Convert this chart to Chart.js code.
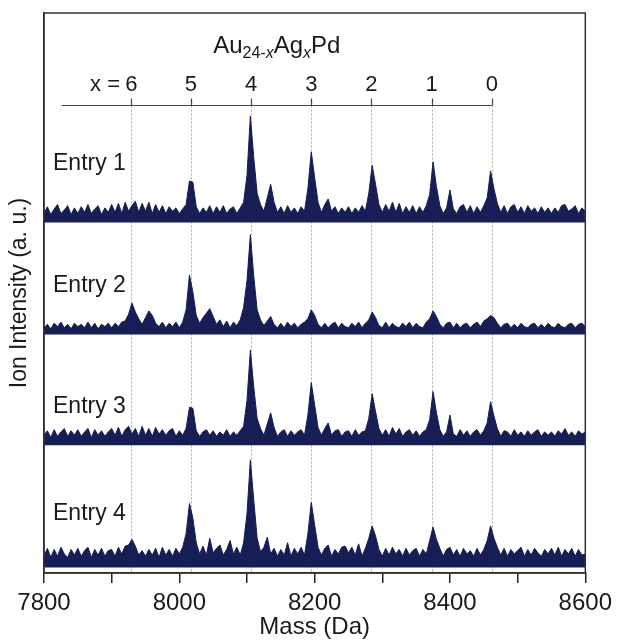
<!DOCTYPE html>
<html>
<head>
<meta charset="utf-8">
<script src="https://cdn.jsdelivr.net/npm/chart.js@4.4.1/dist/chart.umd.min.js"></script>
<style>
  html, body { margin: 0; padding: 0; background: #fff; }
  canvas { display: block; }
</style>
</head>
<body>
<canvas id="grafico" width="618" height="642"></canvas>
<script>
// 1. Datos: espectros cada 5 Da desde 7800 hasta 8600 (161 puntos)
const massStart = 7800;
const massStep = 5;

const entryNames = ['Entry 1', 'Entry 2', 'Entry 3', 'Entry 4'];
// base de cada espectro en el eje y (cada panel = 100 u.a.)
const entryOffsets = [313, 213, 114, 5];

const entry1 = [
  8, 14, 7, 12, 16, 8, 11, 15, 7, 13,
  8, 14, 9, 16, 8, 12, 15, 7, 13, 9,
  16, 9, 17, 8, 18, 10, 15, 19, 9, 17,
  10, 18, 8, 16, 9, 15, 8, 14, 10, 13,
  8, 12, 16, 37, 36, 14, 8, 13, 9, 15,
  8, 14, 9, 15, 8, 12, 14, 8, 13, 18,
  42, 95, 58, 26, 16, 10, 22, 34, 18, 9,
  14, 8, 15, 9, 13, 8, 14, 10, 30, 63,
  40, 18, 9, 16, 21, 10, 14, 8, 13, 9,
  14, 8, 13, 9, 15, 10, 26, 51, 34, 16,
  9, 16, 10, 18, 9, 17, 8, 14, 9, 15,
  8, 14, 9, 15, 25, 54, 32, 15, 8, 13,
  29, 12, 8, 14, 16, 9, 15, 8, 14, 9,
  15, 22, 46, 30, 17, 9, 15, 8, 14, 16,
  9, 14, 8, 15, 10, 13, 8, 14, 9, 13,
  8, 13, 9, 15, 16, 10, 12, 15, 8, 13,
  10
];
const entry2 = [
  6, 9, 5, 10, 7, 11, 6, 9, 5, 10,
  7, 9, 6, 11, 6, 10, 5, 9, 7, 10,
  6, 10, 7, 11, 12, 18, 28, 20, 14, 9,
  15, 21, 17, 10, 7, 11, 6, 10, 7, 11,
  6, 11, 22, 53, 38, 17, 10, 15, 19, 23,
  16, 9, 13, 7, 12, 6, 11, 8, 13, 24,
  48, 89, 52, 22, 13, 8, 12, 16, 9, 6,
  10, 6, 11, 7, 10, 6, 9, 11, 14, 22,
  17, 9, 6, 10, 6, 9, 11, 6, 10, 7,
  6, 10, 7, 11, 6, 10, 13, 20, 15, 8,
  6, 11, 6, 10, 7, 6, 10, 7, 11, 6,
  10, 7, 6, 11, 14, 21, 16, 9, 6, 10,
  11, 6, 10, 6, 9, 10, 6, 9, 11, 7,
  12, 14, 17, 15, 10, 6, 9, 10, 6, 9,
  6, 10, 7, 6, 9, 10, 6, 9, 6, 10,
  7, 6, 10, 7, 6, 9, 10, 6, 9, 10,
  7
];
const entry3 = [
  9, 13, 7, 14, 8, 12, 15, 8, 13, 9,
  14, 8, 12, 15, 7, 14, 9, 13, 8, 12,
  15, 9, 16, 8, 14, 17, 10, 15, 8, 17,
  9, 15, 8, 16, 10, 14, 9, 13, 15, 8,
  13, 9, 15, 34, 33, 13, 8, 12, 14, 9,
  13, 8, 12, 9, 14, 8, 12, 9, 13, 17,
  40, 85, 52, 24, 15, 9, 19, 29, 16, 8,
  12, 14, 8, 13, 9, 12, 14, 9, 27, 56,
  36, 16, 9, 15, 20, 9, 13, 14, 8, 12,
  13, 8, 14, 9, 12, 13, 24, 46, 30, 15,
  9, 14, 8, 16, 10, 15, 8, 12, 14, 9,
  13, 8, 12, 14, 23, 48, 29, 14, 8, 12,
  27, 10, 8, 14, 9, 13, 8, 12, 14, 9,
  13, 20, 39, 26, 15, 8, 13, 12, 8, 14,
  9, 12, 8, 13, 9, 12, 14, 8, 12, 9,
  12, 8, 13, 10, 15, 9, 12, 8, 13, 10,
  12
];
const entry4 = [
  10, 17, 9, 16, 10, 18, 12, 9, 16, 11,
  17, 10, 15, 18, 9, 16, 11, 17, 10, 15,
  16, 10, 18, 12, 19, 20, 25, 19, 11, 15,
  10, 16, 11, 17, 9, 18, 11, 16, 10, 17,
  12, 18, 30, 57, 44, 22, 12, 19, 11, 26,
  13, 17, 20, 11, 16, 24, 12, 18, 11, 22,
  48, 96, 60, 26, 14, 18, 27, 12, 17, 10,
  16, 11, 22, 10, 17, 12, 18, 11, 30, 58,
  38, 18, 11, 17, 20, 10, 16, 12, 18, 19,
  13, 18, 11, 21, 10, 17, 26, 37, 28, 16,
  10, 17, 11, 18, 12, 16, 10, 17, 11, 15,
  17, 10, 16, 12, 24, 36, 25, 17, 10, 16,
  18, 11, 16, 10, 17, 12, 15, 10, 17, 11,
  16, 24, 37, 26, 18, 11, 17, 10, 16, 12,
  15, 18, 10, 16, 11, 17, 13, 10, 16, 12,
  17, 11, 18, 10, 16, 12, 17, 10, 16, 11,
  12
];
const spectra = [entry1, entry2, entry3, entry4];

// picos Au(24-x)Ag(x)Pd, de x = 6 a x = 0
const peakLabels = ['6', '5', '4', '3', '2', '1', '0'];
const peakMasses = [7929, 8017, 8106, 8195, 8284, 8373, 8462];

// ticks del eje x
const massTicks = [7800, 8000, 8200, 8400, 8600];

// 2. Posiciones de textos y eje superior (en unidades de los ejes)
const topAxisStart = 7826;
const topAxisLevel = 418;
const entryLabelLevels = [360, 251, 143, 47];

const navy = '#161e55';
const ink = '#1a1a1a';

const masses = entry1.map((v, i) => massStart + i * massStep);

const datasets = spectra.map((serie, k) => ({
  label: entryNames[k],
  data: serie.map((v, i) => ({ x: masses[i], y: entryOffsets[k] + v })),
  borderColor: navy,
  backgroundColor: navy,
  borderWidth: 1,
  pointRadius: 0,
  tension: 0,
  fill: { value: entryOffsets[k] }
}));

// 3. Plugin para marco, líneas punteadas, eje superior y etiquetas
const decoracion = {
  id: 'decoracion',
  beforeDatasetsDraw(chart) {
    const { ctx, chartArea, scales: { x, y } } = chart;
    const yTop = Math.round(y.getPixelForValue(topAxisLevel)) + 0.5;
    ctx.save();
    ctx.strokeStyle = '#a8a8a8';
    ctx.lineWidth = 1;
    ctx.setLineDash([2, 2]);
    peakMasses.forEach(m => {
      const px = Math.round(x.getPixelForValue(m)) + 0.5;
      ctx.beginPath();
      ctx.moveTo(px, yTop);
      ctx.lineTo(px, chartArea.bottom);
      ctx.stroke();
    });
    ctx.restore();
  },
  afterDatasetsDraw(chart) {
    const { ctx, chartArea, scales: { x, y } } = chart;
    ctx.save();

    // marco
    ctx.strokeStyle = '#333';
    ctx.lineWidth = 1.5;
    ctx.strokeRect(chartArea.left, chartArea.top, chartArea.right - chartArea.left, chartArea.bottom - chartArea.top);

    // eje superior con los valores de x
    const yTop = Math.round(y.getPixelForValue(topAxisLevel)) + 0.5;
    const x0 = x.getPixelForValue(topAxisStart);
    const x1 = x.getPixelForValue(peakMasses[peakMasses.length - 1]);
    ctx.strokeStyle = '#444';
    ctx.lineWidth = 1.2;
    ctx.beginPath();
    ctx.moveTo(x0, yTop);
    ctx.lineTo(x1, yTop);
    peakMasses.forEach(m => {
      const px = Math.round(x.getPixelForValue(m)) + 0.5;
      ctx.moveTo(px, yTop);
      ctx.lineTo(px, yTop - 7);
    });
    ctx.stroke();

    ctx.fillStyle = ink;
    ctx.font = '22px "Liberation Sans", Arial, sans-serif';
    ctx.textBaseline = 'alphabetic';
    ctx.textAlign = 'center';
    peakMasses.forEach((m, i) => {
      ctx.fillText(peakLabels[i], x.getPixelForValue(m), yTop - 15);
    });
    const first = x.getPixelForValue(peakMasses[0]);
    const w6 = ctx.measureText(peakLabels[0]).width;
    ctx.textAlign = 'right';
    ctx.fillText('x = ', first - w6 / 2 + 1, yTop - 15);

    // título Au(24-x)Ag(x)Pd
    const partes = [
      { t: 'Au', f: '24px "Liberation Sans", Arial, sans-serif', dy: 0 },
      { t: '24-', f: '16px "Liberation Sans", Arial, sans-serif', dy: 5 },
      { t: 'x', f: 'italic 16px "Liberation Sans", Arial, sans-serif', dy: 5 },
      { t: 'Ag', f: '24px "Liberation Sans", Arial, sans-serif', dy: 0 },
      { t: 'x', f: 'italic 16px "Liberation Sans", Arial, sans-serif', dy: 5 },
      { t: 'Pd', f: '24px "Liberation Sans", Arial, sans-serif', dy: 0 }
    ];
    let total = 0;
    partes.forEach(p => { ctx.font = p.f; p.w = ctx.measureText(p.t).width; total += p.w; });
    let cx = (x0 + x1) / 2 - total / 2;
    const baseTitulo = yTop - 53;
    ctx.textAlign = 'left';
    partes.forEach(p => {
      ctx.font = p.f;
      ctx.fillText(p.t, cx, baseTitulo + p.dy);
      cx += p.w;
    });

    // nombres de cada entrada
    ctx.font = '23px "Liberation Sans", Arial, sans-serif';
    entryNames.forEach((name, k) => {
      ctx.fillText(name, chartArea.left + 9, y.getPixelForValue(entryLabelLevels[k]));
    });
    ctx.restore();
  }
};

// 4. Gráfico
const ctx = document.getElementById('grafico');
new Chart(ctx.getContext('2d'), {
  type: 'line',
  data: { datasets },
  options: {
    responsive: false,
    animation: false,
    devicePixelRatio: 1,
    layout: { padding: { top: 13, right: 27, left: 0, bottom: 0 } },
    plugins: { legend: { display: false }, tooltip: { enabled: false } },
    scales: {
      x: {
        type: 'linear',
        min: 7800,
        max: 8600,
        ticks: {
          stepSize: 100,
          color: ink,
          font: { family: '"Liberation Sans", Arial, sans-serif', size: 24 },
          padding: 6,
          maxRotation: 0,
          callback: v => massTicks.includes(v) ? String(v) : ''
        },
        grid: { drawOnChartArea: false, drawTicks: true, tickLength: 10, color: '#222', lineWidth: 1.5 },
        border: { display: true, color: '#222', width: 1.5 },
        title: {
          display: true,
          text: 'Mass (Da)',
          color: ink,
          font: { family: '"Liberation Sans", Arial, sans-serif', size: 24 },
          padding: { top: 2, bottom: 0 }
        },
        afterFit: s => { s.height = 69; }
      },
      y: {
        min: 0,
        max: 500,
        ticks: { display: false },
        grid: { display: false },
        border: { display: true, color: '#222', width: 1.5 },
        title: {
          display: true,
          text: 'Ion Intensity (a. u.)',
          color: ink,
          font: { family: '"Liberation Sans", Arial, sans-serif', size: 23 },
          padding: { top: 6, bottom: 0 }
        },
        afterFit: s => { s.width = 44; }
      }
    }
  },
  plugins: [decoracion]
});
</script>
</body>
</html>
